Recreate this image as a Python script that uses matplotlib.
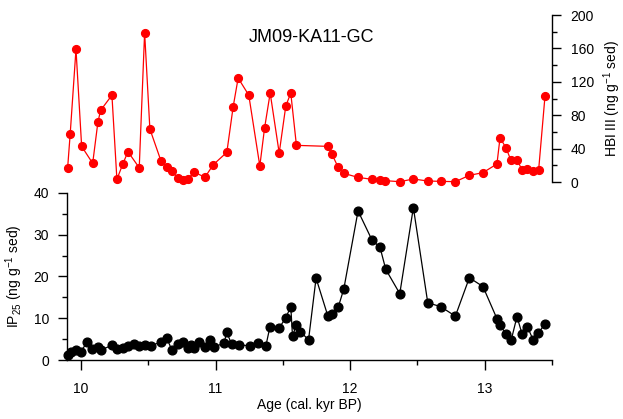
import matplotlib
matplotlib.use("Agg")
import matplotlib.pyplot as plt
from matplotlib.ticker import MultipleLocator

plt.rcParams['font.family'] = ['Liberation Sans', 'DejaVu Sans']
plt.rcParams['mathtext.default'] = 'regular'

# HBI III record (top panel)
age_hbi = [9.901, 9.92, 9.963, 10.005, 10.087, 10.126, 10.146, 10.23, 10.267, 10.31,
           10.349, 10.433, 10.473, 10.512, 10.594, 10.636, 10.676, 10.718, 10.757, 10.797,
           10.841, 10.921, 10.983, 11.084, 11.131, 11.168, 11.247, 11.329, 11.364, 11.406,
           11.473, 11.522, 11.559, 11.601, 11.834, 11.866, 11.911, 11.953, 12.057, 12.163,
           12.222, 12.262, 12.369, 12.47, 12.577, 12.672, 12.782, 12.886, 12.987, 13.091,
           13.114, 13.158, 13.195, 13.243, 13.277, 13.317, 13.359, 13.401, 13.448]
hbi = [17.1, 57.8, 159, 42.7, 22.4, 71.9, 85.8, 104, 3.2, 21.2,
       36.3, 17.1, 179, 63.5, 25.5, 18.3, 13.5, 4.4, 2.0, 4.0,
       12.0, 5.6, 20.7, 35.6, 90.2, 124.5, 104, 19.2, 64.3, 106.6,
       34.7, 91, 106.6, 43.9, 42.7, 33.1, 17.6, 10.4, 5.6, 3.2,
       2.4, 1.6, 0.4, 3.6, 1.2, 0.8, 0.4, 8.0, 11.2, 21.6,
       53, 41, 26, 26, 14.4, 15.2, 13.2, 14.7, 102.6]

# IP25 record (bottom panel)
age_ip25 = [9.901, 9.926, 9.961, 10.0, 10.045, 10.084, 10.124, 10.149, 10.228, 10.267,
            10.31, 10.351, 10.391, 10.433, 10.475, 10.517, 10.594, 10.636, 10.676, 10.718,
            10.757, 10.797, 10.819, 10.839, 10.878, 10.921, 10.96, 10.985, 11.062, 11.084,
            11.119, 11.178, 11.259, 11.317, 11.374, 11.404, 11.473, 11.522, 11.559, 11.572,
            11.601, 11.631, 11.691, 11.747, 11.834, 11.866, 11.913, 11.953, 12.059, 12.163,
            12.222, 12.265, 12.369, 12.47, 12.577, 12.672, 12.782, 12.886, 12.987, 13.091,
            13.114, 13.158, 13.198, 13.24, 13.277, 13.317, 13.359, 13.399, 13.448]
ip25 = [1.2, 1.9, 2.4, 2.0, 4.3, 2.6, 3.0, 2.4, 3.5, 2.6,
        2.9, 3.4, 3.8, 3.3, 3.7, 3.4, 4.3, 5.3, 2.4, 3.8,
        4.3, 2.8, 3.5, 2.9, 4.4, 3.0, 4.8, 3.1, 4.0, 6.6,
        3.8, 3.6, 3.4, 4.0, 3.4, 7.9, 7.7, 10.1, 12.8, 5.7,
        8.5, 6.8, 4.8, 19.6, 10.6, 11.0, 12.8, 17.0, 35.7, 28.7,
        27.0, 21.7, 15.9, 36.5, 13.7, 12.8, 10.5, 19.7, 17.6, 9.9,
        8.3, 6.3, 4.9, 10.4, 6.3, 8.0, 4.9, 6.5, 8.6]

xlim = (9.896, 13.5)

fig = plt.figure(figsize=(6.23, 4.19), dpi=100)
ax_top = fig.add_axes([0.1075, 0.5656, 0.7785, 0.3986])
ax_bot = fig.add_axes([0.1075, 0.1408, 0.7785, 0.3986])

# top panel: HBI III, right axis only
ax_top.plot(age_hbi, hbi, color='#ff0000', lw=0.9, marker='o', ms=5.6,
            mec='#ff0000', mfc='#ff0000', clip_on=False)
ax_top.set_xlim(*xlim)
ax_top.set_ylim(0, 200)
for s in ['left', 'top', 'bottom']:
    ax_top.spines[s].set_visible(False)
ax_top.spines['right'].set_linewidth(1.0)
ax_top.yaxis.tick_right()
ax_top.yaxis.set_label_position('right')
ax_top.set_xticks([])
ax_top.yaxis.set_major_locator(MultipleLocator(40))
ax_top.yaxis.set_minor_locator(MultipleLocator(20))
ax_top.tick_params(axis='y', which='major', length=6.5, width=1.0, labelsize=10, pad=7)
ax_top.tick_params(axis='y', which='minor', length=3.5, width=1.0)
ax_top.set_ylabel('HBI III (ng g$^{-1}$ sed)', fontsize=10, labelpad=5)
ax_top.patch.set_visible(False)

# bottom panel: IP25
ax_bot.plot(age_ip25, ip25, color='black', lw=0.9, marker='o', ms=6.3,
            mec='black', mfc='black', clip_on=False)
ax_bot.set_xlim(*xlim)
ax_bot.set_ylim(0, 40)
for s in ['right', 'top']:
    ax_bot.spines[s].set_visible(False)
for s in ['left', 'bottom']:
    ax_bot.spines[s].set_linewidth(1.0)
ax_bot.xaxis.set_major_locator(MultipleLocator(1))
ax_bot.xaxis.set_minor_locator(MultipleLocator(0.5))
ax_bot.yaxis.set_major_locator(MultipleLocator(10))
ax_bot.yaxis.set_minor_locator(MultipleLocator(5))
ax_bot.tick_params(axis='x', which='major', length=7.5, width=1.0, labelsize=10, pad=8)
ax_bot.tick_params(axis='x', which='minor', length=3.6, width=1.0)
ax_bot.tick_params(axis='y', which='major', length=6.5, width=1.0, labelsize=10, pad=6.5)
ax_bot.tick_params(axis='y', which='minor', length=3.5, width=1.0)
ax_bot.set_xlabel('Age (cal. kyr BP)', fontsize=10, labelpad=2)
ax_bot.set_ylabel('IP$_{25}$ (ng g$^{-1}$ sed)', fontsize=10, labelpad=6)
ax_bot.patch.set_visible(False)

fig.text(311 / 623, 1 - 38 / 419, 'JM09-KA11-GC', fontsize=13,
         ha='center', va='center')

fig.savefig('out.png', dpi=100)
